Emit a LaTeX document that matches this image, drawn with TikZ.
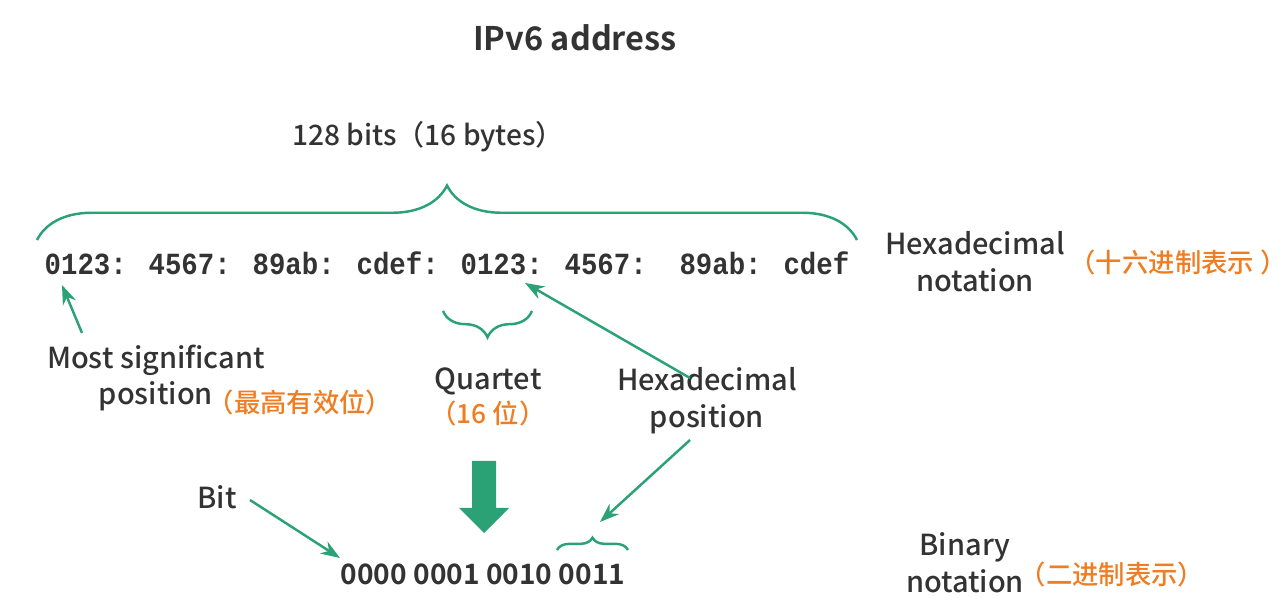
\documentclass[tikz,border=0pt]{standalone}
\usepackage{fontspec}
\setmainfont{Noto Sans CJK SC}[UprightFont={* Medium},BoldFont={* Bold}]
\newfontfamily\hexfont[FakeStretch=0.89]{Liberation Mono}
\usetikzlibrary{arrows.meta,decorations.pathreplacing}
\definecolor{ipgreen}{RGB}{42,162,118}
\definecolor{iporange}{RGB}{239,125,34}
\definecolor{iptext}{RGB}{51,51,51}
\tikzset{
	label text/.style={
		text=iptext,
		font=\fontsize{16.5}{21}\selectfont,
		align=center,
		inner sep=0pt
	},
	cn text/.style={
		text=iporange,
		font=\fontsize{15}{19}\selectfont,
		inner sep=0pt
	},
	pointer/.style={
		draw=ipgreen,
		line width=1.4pt,
		-{Stealth[length=11pt,width=8pt]}
	},
	bracket/.style={
		draw=ipgreen,
		line width=1.4pt,
		decorate,
		decoration={brace,amplitude=#1}
	},
}

\begin{document}
\begin{tikzpicture}[x=0.02cm,y=-0.02cm]
\useasboundingbox (0,0) rectangle (1288,614);

\node[label text,font=\fontsize{18.5}{23}\selectfont\bfseries] (title) at (575,38) {IPv6 address};
\node[label text,font=\fontsize{16}{21}\selectfont] (bits) at (428,137) {128 bits（16 bytes）};

\node[label text,font=\fontsize{17.5}{21}\selectfont\hexfont\bfseries] (hex) at (447,263) {0123: 4567: 89ab: cdef: 0123: 4567:\ \ 89ab: cdef};
\node[label text] (hexnote) at (975,262) {Hexadecimal\\notation};
\node[cn text] (hexcn) at (1178,262) {（十六进制表示 ）};

\node[label text] (msb) at (156,378) {Most significant\\position};
\node[cn text] (msbcn) at (300,402) {（最高有效位）};
\node[label text] (quartet) at (488,381) {Quartet};
\node[cn text] (quartetcn) at (488,413) {（16 位）};
\node[label text] (hexpos) at (707,401) {Hexadecimal\\position};

\node[label text] (bit) at (217,497) {Bit};
\node[label text,font=\fontsize{16}{20}\selectfont\bfseries] (bin) at (483,574) {0000 0001 0010 0011};
\node[label text] (binnote) at (965,563) {Binary\\notation};
\node[cn text] (bincn) at (1112,574) {（二进制表示）};

\coordinate (allL) at (37,240);
\coordinate (allR) at (857,240);
\coordinate (quartL) at (443,311);
\coordinate (quartR) at (532,311);
\coordinate (nibL) at (557,550);
\coordinate (nibR) at (628,550);
\coordinate (msbhead) at (62,285);
\coordinate (msbtail) at (82,333);
\coordinate (hexhead) at (525,283);
\coordinate (hextail) at (690,378);
\coordinate (binhead) at (600,522);
\coordinate (bintail) at (690,440);
\coordinate (bithead) at (340,558);
\coordinate (bittail) at (250,500);

\draw[bracket=31pt] (allL) -- (allR);
\draw[bracket=15pt] (quartR) -- (quartL);
\draw[bracket=7pt] (nibL) -- (nibR);

\draw[pointer] (msbtail) -- (msbhead);
\draw[pointer] (hextail) -- (hexhead);
\draw[pointer] (bintail) -- (binhead);
\draw[pointer] (bittail) -- (bithead);

\fill[ipgreen] (472,461) -- (496,461) -- (496,508) -- (509,508) -- (484,533) -- (459,508) -- (472,508) -- cycle;
\end{tikzpicture}
\end{document}
